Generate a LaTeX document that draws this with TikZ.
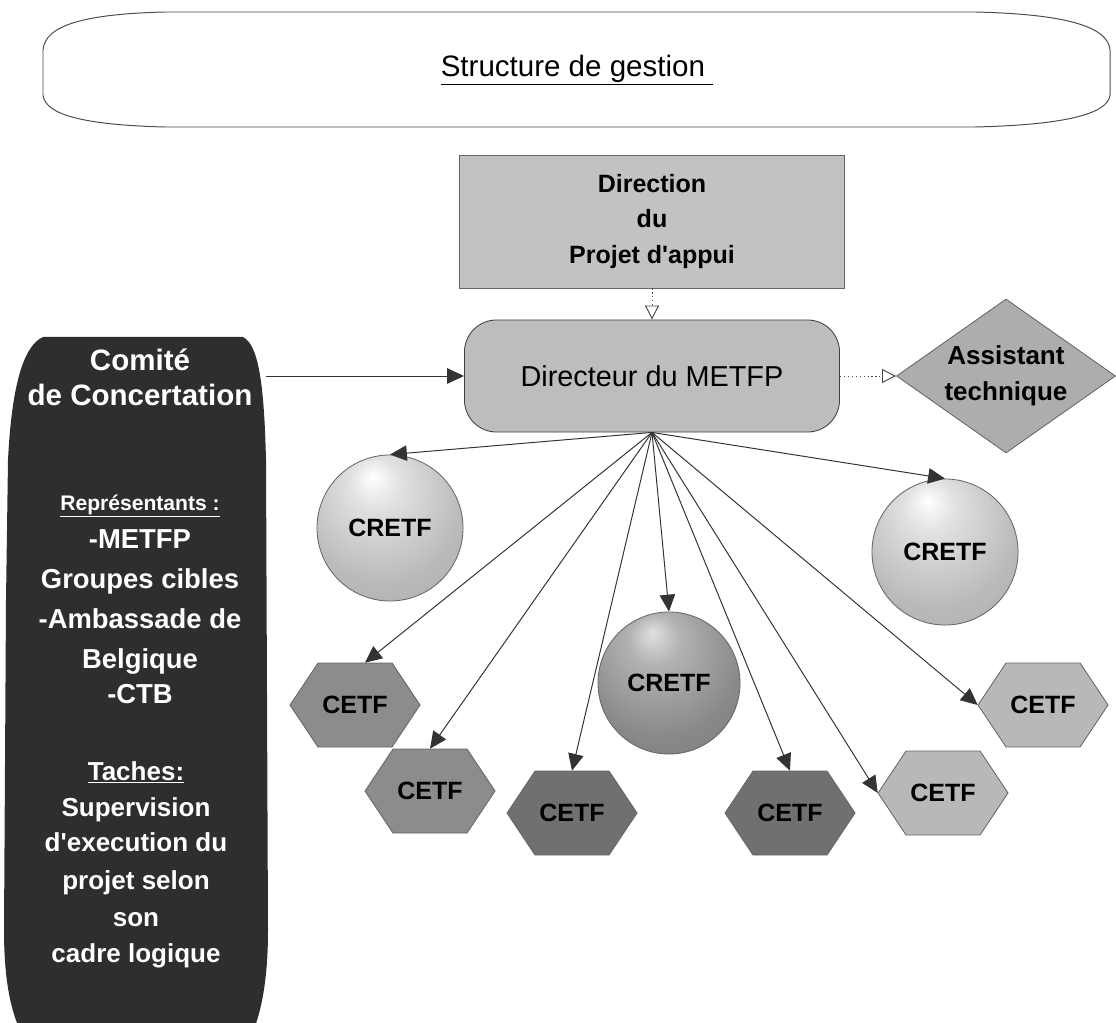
\documentclass[tikz,border=0pt]{standalone}
\usepackage{fontspec}
\setmainfont{Liberation Sans}[Ligatures=TeXOff]
\usetikzlibrary{shapes.geometric,arrows.meta,calc}
\pgfdeclareradialshading{sphereL}{\pgfpoint{-6bp}{18bp}}{color(0bp)=(white); color(9bp)=(black!12); color(28bp)=(black!27); color(50bp)=(black!36); color(60bp)=(black!36)}
\pgfdeclareradialshading{sphereD}{\pgfpoint{-6bp}{18bp}}{color(0bp)=(black!12); color(9bp)=(black!30); color(28bp)=(black!46); color(50bp)=(black!56); color(60bp)=(black!56)}
\newcommand\hexcell[5]{%
  \filldraw[draw=black!60, line width=0.6pt, fill=#4] (#2-65,#3) -- (#2-37,#3-42) -- (#2+37,#3-42) -- (#2+65,#3) -- (#2+37,#3+42) -- (#2-37,#3+42) -- cycle;
  \node[cetf] (#1) at (#2,#3) {#5};}
\tikzset{
  conn/.style={draw=black!80, line width=0.7pt, -{Triangle[length=12pt,width=11pt]}},
  dotconn/.style={draw=black!70, line width=0.7pt, dash pattern=on 0.8pt off 2pt, -{Triangle[length=10pt,width=10pt,fill=white]}},
  dirbox/.style={rectangle, draw=black!60, line width=0.6pt, fill=black!24, minimum width=9.625cm, minimum height=3.325cm, align=center, font=\bfseries\fontsize{17.8}{25}\selectfont},
  metfp/.style={rectangle, rounded corners=0.8cm, draw=black!75, line width=0.6pt, fill=black!26, minimum width=9.375cm, minimum height=2.8cm, font=\fontsize{20.5}{24}\selectfont},
  assist/.style={diamond, aspect=1.42, inner sep=0pt, draw=black!60, line width=0.6pt, fill=black!32, minimum width=5.475cm, minimum height=3.85cm, align=center, font=\bfseries\fontsize{18.5}{25.6}\selectfont},
  cretfL/.style={circle, draw=black!60, line width=0.6pt, shading=sphereL, minimum size=3.65cm, inner sep=0pt, font=\bfseries\fontsize{17.8}{22}\selectfont},
  cretfD/.style={circle, draw=black!60, line width=0.6pt, shading=sphereD, minimum size=3.55cm, inner sep=0pt, font=\bfseries\fontsize{17.8}{22}\selectfont},
  cetf/.style={rectangle, minimum width=3.25cm, minimum height=2.1cm, inner sep=0pt, font=\bfseries\fontsize{17.8}{22}\selectfont},
  comtxt/.style={anchor=base, inner sep=0pt, text=white, font=\bfseries\fontsize{19.5}{24}\selectfont}
}
\begin{document}
\begin{tikzpicture}[x=0.025cm, y=-0.025cm]
\useasboundingbox (0,0) rectangle (1116,1023);
\clip (0,0) rectangle (1116,1023);

% banner
\draw[black!70, line width=0.7pt, fill=white] (165,12) -- (975,12) .. controls (1060,14) and (1108,25) .. (1110,50) -- (1110,95) .. controls (1108,115) and (1060,125) .. (975,127) -- (165,127) .. controls (85,125) and (45,115) .. (43,95) -- (43,50) .. controls (45,25) and (85,14) .. (165,12) -- cycle;
\node[font=\fontsize{21}{24}\selectfont] (banner) at (577,70) {\underline{Structure de gestion\ }};

% Comite shape
\fill[black!82] (43,337) -- (243,337) .. controls (258,345) and (264,380) .. (266,460) -- (268,930) .. controls (268,985) and (260,1020) .. (247,1045) -- (28,1045) .. controls (12,1020) and (4,985) .. (4,930) -- (6,600) -- (8,460) .. controls (12,380) and (25,345) .. (43,337) -- cycle;
\node[minimum width=6.55cm, minimum height=17.5cm, inner sep=0pt] (com) at (135,687) {};
\node[comtxt, font=\bfseries\fontsize{21}{24}\selectfont] (ct1) at (140,370) {Comité};
\node[comtxt, font=\bfseries\fontsize{21}{24}\selectfont] (ct2) at (140,405) {de Concertation};
\node[comtxt, font=\bfseries\fontsize{15}{18}\selectfont] (ctrep) at (140,510) {\underline{Représentants :}};
\foreach \txt/\yy [count=\k from 3] in {-METFP/548, Groupes cibles/588, -Ambassade de/628, Belgique/668, -CTB/703}
  \node[comtxt] (ct\k) at (140,\yy) {\txt};
\foreach \txt/\yy [count=\k from 8] in {\underline{Taches:}/780, Supervision/816, d'execution du/851, projet selon/889, son/926, cadre logique/962}
  \node[comtxt, font=\bfseries\fontsize{18.5}{22}\selectfont] (ct\k) at (136,\yy) {\txt};

% upper nodes
\node[dirbox] (direction) at (652,221.5) {Direction\\du\\Projet d'appui};
\node[metfp] (directeur) at (652,376) {Directeur du METFP};
\node[assist] (assistant) at (1006,376) {Assistant\\technique};

% circles
\node[cretfL] (c1) at (390,528) {CRETF};
\node[cretfL] (c2) at (945,552) {CRETF};
\node[cretfD] (c3) at (669,683) {CRETF};

% hexagons
\hexcell{h1}{355}{705}{black!45}{CETF}
\hexcell{h2}{430}{791}{black!45}{CETF}
\hexcell{h3}{572}{813}{black!56}{CETF}
\hexcell{h5}{790}{813}{black!56}{CETF}
\hexcell{h4}{943}{793}{black!28}{CETF}
\hexcell{h6}{1043}{705}{black!28}{CETF}

% connectors
\draw[dotconn] (direction.south) -- (directeur.north);
\draw[dotconn] (directeur.east) -- (assistant.west);
\draw[conn] (com.east |- directeur.west) -- (directeur.west);
\foreach \t in {c1,c2,c3,h2,h3,h5}
  \draw[conn] (directeur.south) -- (\t.north);
\draw[conn] (directeur.south) -- ($(h1.north)+(10,0)$);
\draw[conn] (directeur.south) -- (h4.west);
\draw[conn] (directeur.south) -- (h6.west);
\end{tikzpicture}
\end{document}
